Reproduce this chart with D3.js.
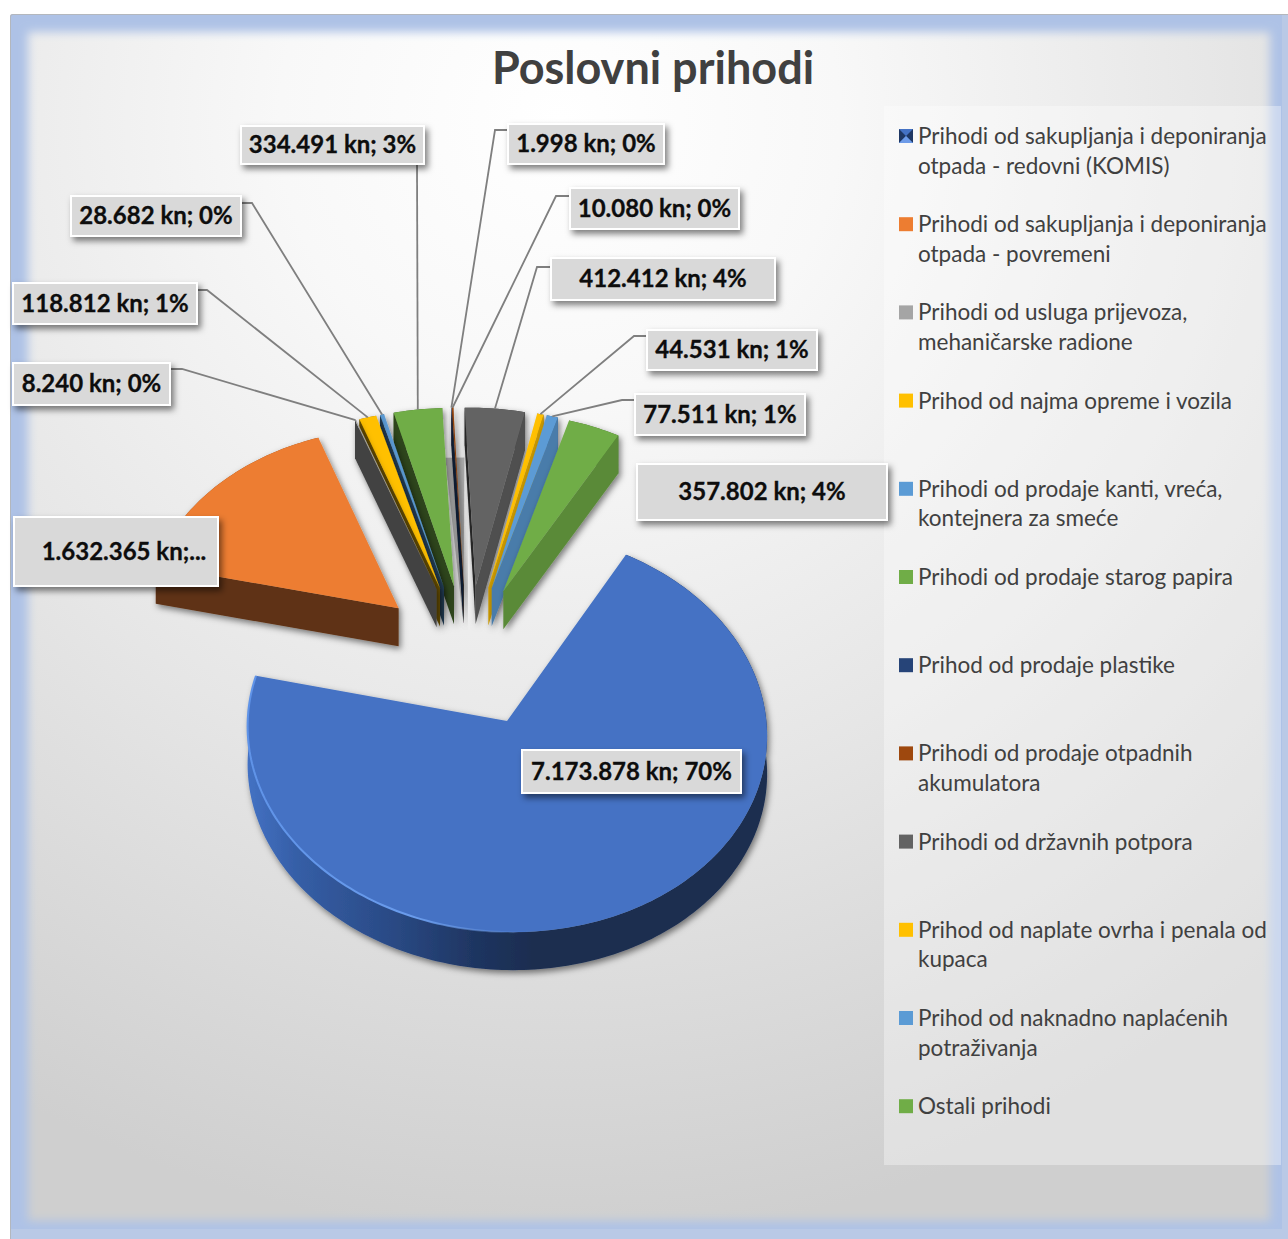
<!DOCTYPE html>
<html>
<head>
<meta charset="utf-8">
<script src="https://cdnjs.cloudflare.com/ajax/libs/d3/7.8.5/d3.min.js"></script>
<style>
	html, body { margin: 0; padding: 0; background: #fff; }
	svg { display: block; }
	text { font-family: Lato, "Open Sans", sans-serif; }
</style>
</head>
<body>
<div id="chart"></div>
<script>
var categories = [
	["Prihodi od sakupljanja i deponiranja", "otpada - redovni (KOMIS)"],
	["Prihodi od sakupljanja i deponiranja", "otpada - povremeni"],
	["Prihodi od usluga prijevoza,", "mehaničarske radione"],
	["Prihod od najma opreme i vozila"],
	["Prihodi od prodaje kanti, vreća,", "kontejnera za smeće"],
	["Prihodi od prodaje starog papira"],
	["Prihod od prodaje plastike"],
	["Prihodi od prodaje otpadnih", "akumulatora"],
	["Prihodi od državnih potpora"],
	["Prihod od naplate ovrha i penala od", "kupaca"],
	["Prihod od naknadno naplaćenih", "potraživanja"],
	["Ostali prihodi"]
];
var values = [7173878, 1632365, 8240, 118812, 28682, 334491, 1998, 10080, 412412, 44531, 77511, 357802];
var labelTexts = [
	"7.173.878 kn; 70%", "1.632.365 kn;...", "8.240 kn; 0%", "118.812 kn; 1%",
	"28.682 kn; 0%", "334.491 kn; 3%", "1.998 kn; 0%", "10.080 kn; 0%",
	"412.412 kn; 4%", "44.531 kn; 1%", "77.511 kn; 1%", "357.802 kn; 4%"
];
var colors = ["#4472c4", "#ed7d31", "#a5a5a5", "#ffc000", "#5b9bd5", "#70ad47", "#264478", "#9e480e", "#636363", "#ffc000", "#5b9bd5", "#70ad47"];

// label boxes were moved by hand in the original: left, top, right, bottom
var labelBoxes = [
	[522, 750, 741, 793], [14, 517, 218, 586], [13, 363, 170, 405], [13, 283, 197, 324],
	[71, 196, 241, 236], [241, 126, 424, 164], [508, 124, 664, 164], [570, 188, 739, 229],
	[551, 258, 775, 300], [647, 330, 817, 370], [635, 394, 805, 435], [637, 464, 887, 520]
];
// leader start and elbow, null when the label has no leader
var leaderStarts = [
	null, null, [[170, 369], [182, 369]], [[197, 290], [207, 290]],
	[[241, 203], [252, 203]], [[417, 164]], [[508, 130], [495, 130]], [[570, 196], [556, 196]],
	[[551, 267], [537, 267]], [[647, 336], [634, 336]], [[635, 400], [622, 400]], null
];

var width = 1288,
	height = 1239,
	cx = 468,
	cy = 655,
	radius = 255,
	explode = 93,
	tilt = 0.76,
	persp = 0.05,
	skew = 0.017,
	depth = 38,
	legendTop = 136,
	legendStep = 88.2;

var svg = d3.select("#chart").append("svg").attr("width", width).attr("height", height);
var defs = svg.append("defs");

function gradient(id, tag, attrs, stops) {
	var g = defs.append(tag).attr("id", id);
	Object.keys(attrs).forEach(function(k) { g.attr(k, attrs[k]); });
	stops.forEach(function(s) {
		g.append("stop").attr("offset", s[0]).attr("stop-color", s[1]).attr("stop-opacity", s.length > 2 ? s[2] : 1);
	});
}

gradient("bg", "radialGradient", {gradientUnits: "userSpaceOnUse", cx: 560, cy: 120, r: 1120}, [
	[0, "#ffffff"], [0.25, "#f8f8f8"], [0.6, "#e6e6e6"], [1, "#cfcfcf"]
]);
gradient("rim", "linearGradient", {gradientUnits: "userSpaceOnUse", x1: 246, x2: 766, y1: 0, y2: 0}, [
	[0, "#4472c4"], [0.1, "#355ea6"], [0.28, "#2a4a85"], [0.45, "#1e345f"], [0.55, "#1a2d50"], [1, "#1a2d50"]
]);
gradient("edge", "linearGradient", {gradientUnits: "userSpaceOnUse", x1: 246, x2: 530, y1: 0, y2: 0}, [
	[0, "#5f93e8"], [0.6, "#6a9cec"], [1, "#6a9cec", 0]
]);

var shadow = defs.append("filter").attr("id", "shadow").attr("x", "-20%").attr("y", "-20%").attr("width", "150%").attr("height", "150%");
shadow.append("feDropShadow").attr("dx", 2).attr("dy", 3).attr("stdDeviation", 3).attr("flood-color", "#000").attr("flood-opacity", 0.5);
var boxShadow = defs.append("filter").attr("id", "boxShadow").attr("x", "-10%").attr("y", "-20%").attr("width", "125%").attr("height", "160%");
boxShadow.append("feDropShadow").attr("dx", 3).attr("dy", 4).attr("stdDeviation", 3).attr("flood-color", "#000").attr("flood-opacity", 0.5);
defs.append("filter").attr("id", "soft").append("feGaussianBlur").attr("stdDeviation", 5);
defs.append("filter").attr("id", "soft1").attr("filterUnits", "userSpaceOnUse")
	.attr("x", 200).attr("y", 600).attr("width", 600).attr("height", 400)
	.append("feGaussianBlur").attr("stdDeviation", 0.7);
defs.append("clipPath").attr("id", "frame").append("rect")
	.attr("x", 10).attr("y", 14).attr("width", 1290).attr("height", 1240).attr("rx", 3);

// background with the blue inner glow
var bg = svg.append("g").attr("clip-path", "url(#frame)");
bg.append("rect").attr("x", 10).attr("y", 14).attr("width", 1290).attr("height", 1240).attr("fill", "url(#bg)");
bg.append("rect").attr("x", 10).attr("y", 14).attr("width", 1278).attr("height", 1225)
	.attr("fill", "none").attr("stroke", "#aec2e6").attr("stroke-width", 36).attr("filter", "url(#soft)");
bg.append("rect").attr("x", 1282).attr("y", 14).attr("width", 6).attr("height", 1225).attr("fill", "#b9c9e6");
bg.append("rect").attr("x", 10).attr("y", 1229).attr("width", 1278).attr("height", 10).attr("fill", "#b9c9e6");
bg.append("rect").attr("x", 10).attr("y", 14).attr("width", 1290).attr("height", 1240).attr("rx", 3)
	.attr("fill", "none").attr("stroke", "#b3b7bd").attr("stroke-width", 2);

svg.append("text").attr("x", 653).attr("y", 84).attr("text-anchor", "middle")
	.attr("font-size", 45).attr("font-weight", 700).attr("fill", "#404040").text("Poslovni prihodi");

// legend panel
svg.append("rect").attr("x", 884).attr("y", 106).attr("width", 397).attr("height", 1059)
	.attr("fill", "#fff").attr("fill-opacity", 0.35);

var legend = svg.selectAll("g.legend").data(categories).enter().append("g")
	.attr("class", "legend")
	.attr("transform", function(d, i) { return "translate(0," + (legendTop + i * legendStep) + ")"; });

legend.append("rect").attr("x", 899).attr("y", -7).attr("width", 14).attr("height", 14)
	.attr("fill", function(d, i) { return colors[i]; });

// first swatch carries the bevel of the big slice
var bevel = d3.select(legend.nodes()[0]);
bevel.append("path").attr("d", "M899,-7L906,0L899,7ZM913,-7L906,0L913,7Z").attr("fill", "#1f3864");
bevel.append("path").attr("d", "M899,7L906,0L913,7Z").attr("fill", "#6d9be8");

legend.each(function(lines) {
	d3.select(this).selectAll("text").data(lines).enter().append("text")
		.attr("x", 918)
		.attr("y", function(d, j) { return j * 29.5 + 8; })
		.attr("font-size", 22.5)
		.attr("fill", "#404040")
		.text(function(d) { return d; });
});

// pie starts at 30 degrees, going clockwise
var pie = d3.pie().sort(null).startAngle(Math.PI / 6).endAngle(Math.PI / 6 + 2 * Math.PI);
var arcs = pie(values);

function midAngle(d) {
	return (d.startAngle + d.endAngle) / 2;
}

function project(d, r, a, dz) {
	var X = explode * Math.sin(midAngle(d)) + r * Math.sin(a);
	var Y = explode * Math.cos(midAngle(d)) + r * Math.cos(a);
	var s = 1 / (1 + persp * Y / radius);
	return [cx + X * s - skew * Y, cy - tilt * Y * s + dz];
}

function arcPoints(d, dz) {
	var n = Math.max(2, Math.ceil((d.endAngle - d.startAngle) / 0.02));
	return d3.range(n + 1).map(function(i) {
		return project(d, radius, d.startAngle + (d.endAngle - d.startAngle) * i / n, dz);
	});
}

var line = d3.line();

function topPath(d) {
	return line([project(d, 0, 0, 0)].concat(arcPoints(d, 0))) + "Z";
}

function wallPath(d, a) {
	return line([project(d, 0, 0, 0), project(d, radius, a, 0), project(d, radius, a, depth), project(d, 0, 0, depth)]) + "Z";
}

function rimPath(d) {
	return line(arcPoints(d, 0).concat(arcPoints(d, depth).reverse())) + "Z";
}

var shade = function(c, t) { return d3.interpolateRgb(c, "#000")(t); };

// grey smear the two thinnest slices leave on the background
var thin = arcs[6];
svg.append("path")
	.attr("d", line([
		project(thin, 0, 0, depth),
		project(thin, radius * 0.71, midAngle(thin) - 0.056, 0),
		project(thin, radius * 0.71, midAngle(thin) + 0.056, 0)
	]) + "Z")
	.attr("fill", "#b4b4b4");

// far slices first so the near ones paint over them
var order = arcs.slice().sort(function(a, b) {
	return Math.cos(midAngle(b)) - Math.cos(midAngle(a));
});

var slices = svg.selectAll("g.slice").data(order).enter().append("g")
	.attr("class", "slice")
	.attr("filter", "url(#shadow)");

slices.append("path").attr("d", rimPath)
	.attr("fill", function(d) { return d.index == 0 ? "url(#rim)" : shade(colors[d.index], 0.4); });
// a wall is only seen when it faces the viewer
slices.filter(function(d) { return Math.sin(d.startAngle) < 0; })
	.append("path").attr("d", function(d) { return wallPath(d, d.startAngle); })
	.attr("fill", function(d) { return shade(colors[d.index], 0.6); });
slices.filter(function(d) { return Math.sin(d.endAngle) > 0; })
	.append("path").attr("d", function(d) { return wallPath(d, d.endAngle); })
	.attr("fill", function(d) { return shade(colors[d.index], 0.2); });
slices.append("path").attr("d", topPath)
	.attr("fill", function(d) { return colors[d.index]; });

// light bevel along the front edge of the big slice
svg.append("path")
	.attr("d", line(arcPoints(arcs[0], 0).filter(function(p, i, all) { return i > all.length * 0.55; })))
	.attr("fill", "none").attr("stroke", "url(#edge)").attr("stroke-width", 2).attr("filter", "url(#soft1)");

// leaders run from the label to the middle of the slice's outer edge
svg.selectAll("path.leader").data(arcs.filter(function(d) { return leaderStarts[d.index]; })).enter().append("path")
	.attr("class", "leader")
	.attr("fill", "none").attr("stroke", "#7f7f7f").attr("stroke-width", 1.8)
	.attr("d", function(d) {
		return line(leaderStarts[d.index].concat([project(d, radius, midAngle(d), 0)]));
	});

var labels = svg.selectAll("g.label").data(arcs).enter().append("g").attr("class", "label");
labels.append("rect")
	.attr("x", function(d) { return labelBoxes[d.index][0]; })
	.attr("y", function(d) { return labelBoxes[d.index][1]; })
	.attr("width", function(d) { return labelBoxes[d.index][2] - labelBoxes[d.index][0]; })
	.attr("height", function(d) { return labelBoxes[d.index][3] - labelBoxes[d.index][1]; })
	.attr("fill", "#d9d9d9").attr("stroke", "#fff").attr("stroke-width", 2)
	.attr("filter", "url(#boxShadow)");
labels.append("text")
	// the cut-off label sits right of centre in its box
	.attr("x", function(d) { return (labelBoxes[d.index][0] + labelBoxes[d.index][2]) / 2 + (d.index == 1 ? 8 : 0); })
	.attr("y", function(d) { return (labelBoxes[d.index][1] + labelBoxes[d.index][3]) / 2 + 8; })
	.attr("text-anchor", "middle")
	.attr("font-size", 24).attr("font-weight", 700).attr("fill", "#0d0d0d")
	.attr("stroke", "#0d0d0d").attr("stroke-width", 0.3)
	.text(function(d) { return labelTexts[d.index]; });
</script>
</body>
</html>
